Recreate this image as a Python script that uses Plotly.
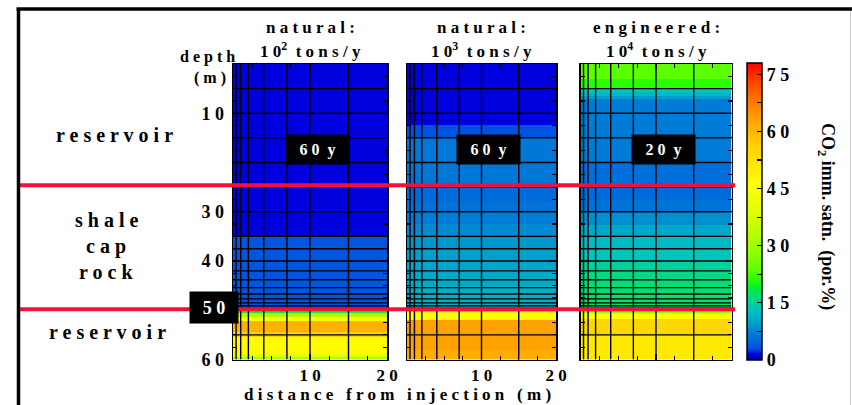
import plotly.graph_objects as go

W, H = 852, 405

# ---------------- data ----------------
dist_range = [0, 20]          # distance from injection (m)
depth_range = [0, 60]         # depth (m)

# numerical mesh (cell boundaries) shown as grid lines
mesh_x = [0.4, 1, 2, 4, 7, 10, 15]
mesh_depth = [5, 10, 15, 20, 25, 30, 35, 37.5, 40, 42, 43.8, 45.4, 46.7,
              47.7, 48.5, 49.1, 49.6, 50, 55]

# CO2 immobile saturation (por.%) as depth bands: band edges + values
p1_edges = [0, 35, 50, 50.5, 51.3, 52.2, 54.4, 55.4, 58.8, 59.4, 60]
p1_vals = [1.5, 3.5, 19.5, 32, 46, 61, 56, 47, 40, 31]

p2_edges = [0, 12.4, 15, 25, 28, 30, 32.5, 35, 37.5, 40, 42.5, 45, 47.5,
            50, 50.4, 52, 58, 60]
p2_vals = [1.5, 3.2, 6.5, 5.2, 6, 7, 8, 9, 9.7, 10.2, 10.7, 11.1, 11.4,
           35, 47, 63, 61.5]

p3_edges = [0, 3, 5, 5.7, 6.4, 7.2, 20, 25, 27.6, 30, 32.6, 35, 37.4, 40,
            42, 44, 47.4, 50, 50.5, 51.7, 54.8, 60]
p3_vals = [23.5, 21, 14, 12, 9.5, 6.8, 5.5, 5.2, 6, 8.5, 10.5, 12.2, 13.3,
           14.8, 16, 16.8, 17.3, 28, 46, 55, 51]

panel_edges = [p1_edges, p2_edges, p3_edges]
panel_vals = [p1_vals, p2_vals, p3_vals]

panel_title1 = ["n a t u r a l :", "n a t u r a l :", "e n g i n e e r e d :"]
panel_title2 = ["1 0<sup>2</sup>\u00a0 t o n s / y",
                "1 0<sup>3</sup>\u00a0 t o n s / y",
                "1 0<sup>4</sup>\u00a0 t o n s / y"]
panel_time = ["6 0\u00a0\u00a0y", "6 0\u00a0\u00a0y", "2 0\u00a0\u00a0y"]

depth_ticks = [10, 30, 40, 60]
depth_ticktext = ["1 0", "3 0", "4 0", "6 0"]
dist_ticks = [10, 20]
dist_ticktext = ["1 0", "2 0"]

layer_bounds = [24.6, 49.8]   # reservoir / shale / reservoir interfaces

cbar_ticks = [0, 7.5, 15, 22.5, 30, 37.5, 45, 52.5, 60, 67.5, 75]
cbar_ticktext = ["0", "", "1 5", "", "3 0", "", "4 5", "", "6 0", "", "7 5"]
cmin, cmax = 0, 78

# colour scale stops (value, colour)
cs_vals = [0, 1.5, 3, 5, 7, 9, 11, 13, 14.5, 16, 17.5, 19, 21, 24, 30, 38,
           46, 52, 56, 62, 68, 73, 78]
cs_cols = ["rgb(0,0,160)", "rgb(0,0,222)", "rgb(0,80,224)", "rgb(0,105,220)",
           "rgb(0,125,214)", "rgb(0,150,206)", "rgb(0,175,200)",
           "rgb(0,195,195)", "rgb(0,205,160)", "rgb(0,218,130)",
           "rgb(0,228,100)", "rgb(0,240,50)", "rgb(40,255,0)",
           "rgb(100,255,0)", "rgb(160,255,0)", "rgb(220,255,0)",
           "rgb(255,255,0)", "rgb(255,228,0)", "rgb(255,210,0)",
           "rgb(255,170,0)", "rgb(255,120,0)", "rgb(255,70,0)",
           "rgb(255,0,0)"]

# ---------------- layout helpers ----------------
def px(x):
    return x / W


def py(y):
    return 1 - y / H


FONT = "Liberation Serif"
panel_px = [(233, 387), (407, 556), (580.5, 731.5)]
PANEL_TOP, PANEL_BOT = 64, 359.5
y_dom = [py(PANEL_BOT), py(PANEL_TOP)]

fig = go.Figure()

for i in range(3):
    xa = "x" if i == 0 else f"x{i+1}"
    ya = "y" if i == 0 else f"y{i+1}"
    fig.add_trace(go.Heatmap(
        x=dist_range, y=panel_edges[i],
        z=[[v] for v in panel_vals[i]],
        coloraxis="coloraxis", xaxis=xa, yaxis=ya, hoverinfo="skip"))
    xs, ys = [], []
    for d in mesh_depth:
        xs += [dist_range[0], dist_range[1], None]
        ys += [d, d, None]
    for m in mesh_x:
        xs += [m, m, None]
        ys += [depth_range[0], depth_range[1], None]
    fig.add_trace(go.Scatter(x=xs, y=ys, mode="lines",
                             line=dict(color="black", width=1.4),
                             xaxis=xa, yaxis=ya, hoverinfo="skip",
                             showlegend=False))

# overlay axes in pixel units for frame and interface lines
def depth_to_px(d):
    return PANEL_TOP + d * (PANEL_BOT - PANEL_TOP) / (depth_range[1] - depth_range[0])

rx, ry = [], []
for b in layer_bounds:
    yb = depth_to_px(b)
    rx += [20, 735, None]
    ry += [yb, yb, None]
fig.add_trace(go.Scatter(x=rx, y=ry, mode="lines", xaxis="x4", yaxis="y4",
                         line=dict(color="rgb(245,15,60)", width=4),
                         hoverinfo="skip", showlegend=False))
fig.add_trace(go.Scatter(x=[18.5, 18.5, None, 16.5, 852],
                         y=[405, 9, None, 9, 9], mode="lines",
                         xaxis="x4", yaxis="y4",
                         line=dict(color="black", width=3.5),
                         hoverinfo="skip", showlegend=False))
fig.add_trace(go.Scatter(x=[850.5, 850.5], y=[11, 405], mode="lines",
                         xaxis="x4", yaxis="y4",
                         line=dict(color="rgb(200,200,200)", width=1),
                         hoverinfo="skip", showlegend=False))

tickfont = dict(family=FONT, size=18, color="black", weight="bold")
xtickfont = dict(family=FONT, size=17, color="black", weight="bold")
for i in range(3):
    xk = "xaxis" if i == 0 else f"xaxis{i+1}"
    yk = "yaxis" if i == 0 else f"yaxis{i+1}"
    ax_anchor = "y" if i == 0 else f"y{i+1}"
    ay_anchor = "x" if i == 0 else f"x{i+1}"
    x0, x1 = panel_px[i]
    fig.layout[xk] = dict(
        domain=[px(x0), px(x1)], range=dist_range, anchor=ax_anchor,
        showline=True, linecolor="black", linewidth=1.5, mirror="ticks",
        ticks="inside", ticklen=6, tickcolor="black", tickwidth=1.2,
        tickvals=dist_ticks, ticktext=dist_ticktext,
        showticklabels=(i < 2), tickfont=xtickfont,
        minor=dict(dtick=2.5, tick0=0, ticks="inside", ticklen=4,
                   tickcolor="black", showgrid=False),
        showgrid=False, zeroline=False, fixedrange=True, automargin=False)
    fig.layout[yk] = dict(
        domain=y_dom, range=[depth_range[1], depth_range[0]],
        anchor=ay_anchor,
        showline=True, linecolor="black", linewidth=1.5, mirror="ticks",
        ticks="inside", ticklen=6, tickcolor="black", tickwidth=1.2,
        tickvals=depth_ticks, ticktext=depth_ticktext,
        showticklabels=(i == 0), tickfont=tickfont,
        ticklabelstandoff=4,
        minor=dict(dtick=2.5, tick0=0, ticks="inside", ticklen=4,
                   tickcolor="black", showgrid=False),
        showgrid=False, zeroline=False, fixedrange=True, automargin=False)

fig.layout["xaxis4"] = dict(domain=[0, 1], range=[0, W], anchor="y4",
                            visible=False, fixedrange=True, automargin=False)
fig.layout["yaxis4"] = dict(domain=[0, 1], range=[H, 0], anchor="x4",
                            visible=False, fixedrange=True, automargin=False)

colorscale = [[(v - cmin) / (cmax - cmin), c] for v, c in zip(cs_vals, cs_cols)]

fig.update_layout(
    template="none",
    width=W, height=H, autosize=False,
    margin=dict(l=0, r=0, t=0, b=0, pad=0, autoexpand=False),
    paper_bgcolor="white", plot_bgcolor="rgba(0,0,0,0)",
    showlegend=False,
    coloraxis=dict(
        colorscale=colorscale, cmin=cmin, cmax=cmax,
        colorbar=dict(
            x=px(747), xanchor="left", y=py(211.4), yanchor="middle",
            len=297.3 / H, lenmode="fraction", thickness=15,
            thicknessmode="pixels", xpad=0, ypad=0,
            outlinecolor="black", outlinewidth=1.5,
            ticks="inside", ticklen=5, tickcolor="black", tickwidth=1.2,
            tickvals=cbar_ticks, ticktext=cbar_ticktext,
            tickfont=tickfont)),
)

ann = []
def text(x, y, s, size=18, color="black", **kw):
    ann.append(dict(x=px(x), y=py(y), xref="paper", yref="paper", text=s,
                    showarrow=False, xanchor="center", yanchor="middle",
                    font=dict(family=FONT, size=size, color=color,
                              weight="bold"), **kw))

for i in range(3):
    cx = sum(panel_px[i]) / 2
    text(cx, 28, panel_title1[i], size=17)
    text(cx, 50, panel_title2[i], size=17)
    xa = "x" if i == 0 else f"x{i+1}"
    ann.append(dict(x=11, y=17.4, xref=xa, yref="y", text=panel_time[i],
                    showarrow=False, bgcolor="black", width=61, height=27,
                    xanchor="center", yanchor="middle",
                    font=dict(family=FONT, size=16, color="white",
                              weight="bold")))

text(207, 57, "d e p t h", size=16)
text(210, 78, "( m )", size=16)
text(114.5, 135, "r e s e r v o i r", size=20)
text(106, 220, "s h a l e", size=20)
text(106, 246.7, "c a p", size=20)
text(106, 271.7, "r o c k", size=20)
text(107, 332, "r e s e r v o i r", size=20)
text(214, 307.5, "5 0", size=18, color="white", bgcolor="black",
     width=46, height=29)
text(397, 394,
     "d i s t a n c e\u00a0\u00a0 f r o m\u00a0\u00a0 i n j e c t i o n\u00a0\u00a0 ( m )",
     size=17)
text(827, 216, "CO<sub>2</sub> imm. satn.\u00a0\u00a0(por.%)", size=18,
     textangle=90)

fig.update_layout(annotations=ann)

fig.write_html(
    "out.html",
    config={"displayModeBar": False, "staticPlot": True},
    post_script="document.body.style.margin='0';"
                "document.body.style.overflow='hidden';"
                "document.documentElement.style.overflow='hidden';")
